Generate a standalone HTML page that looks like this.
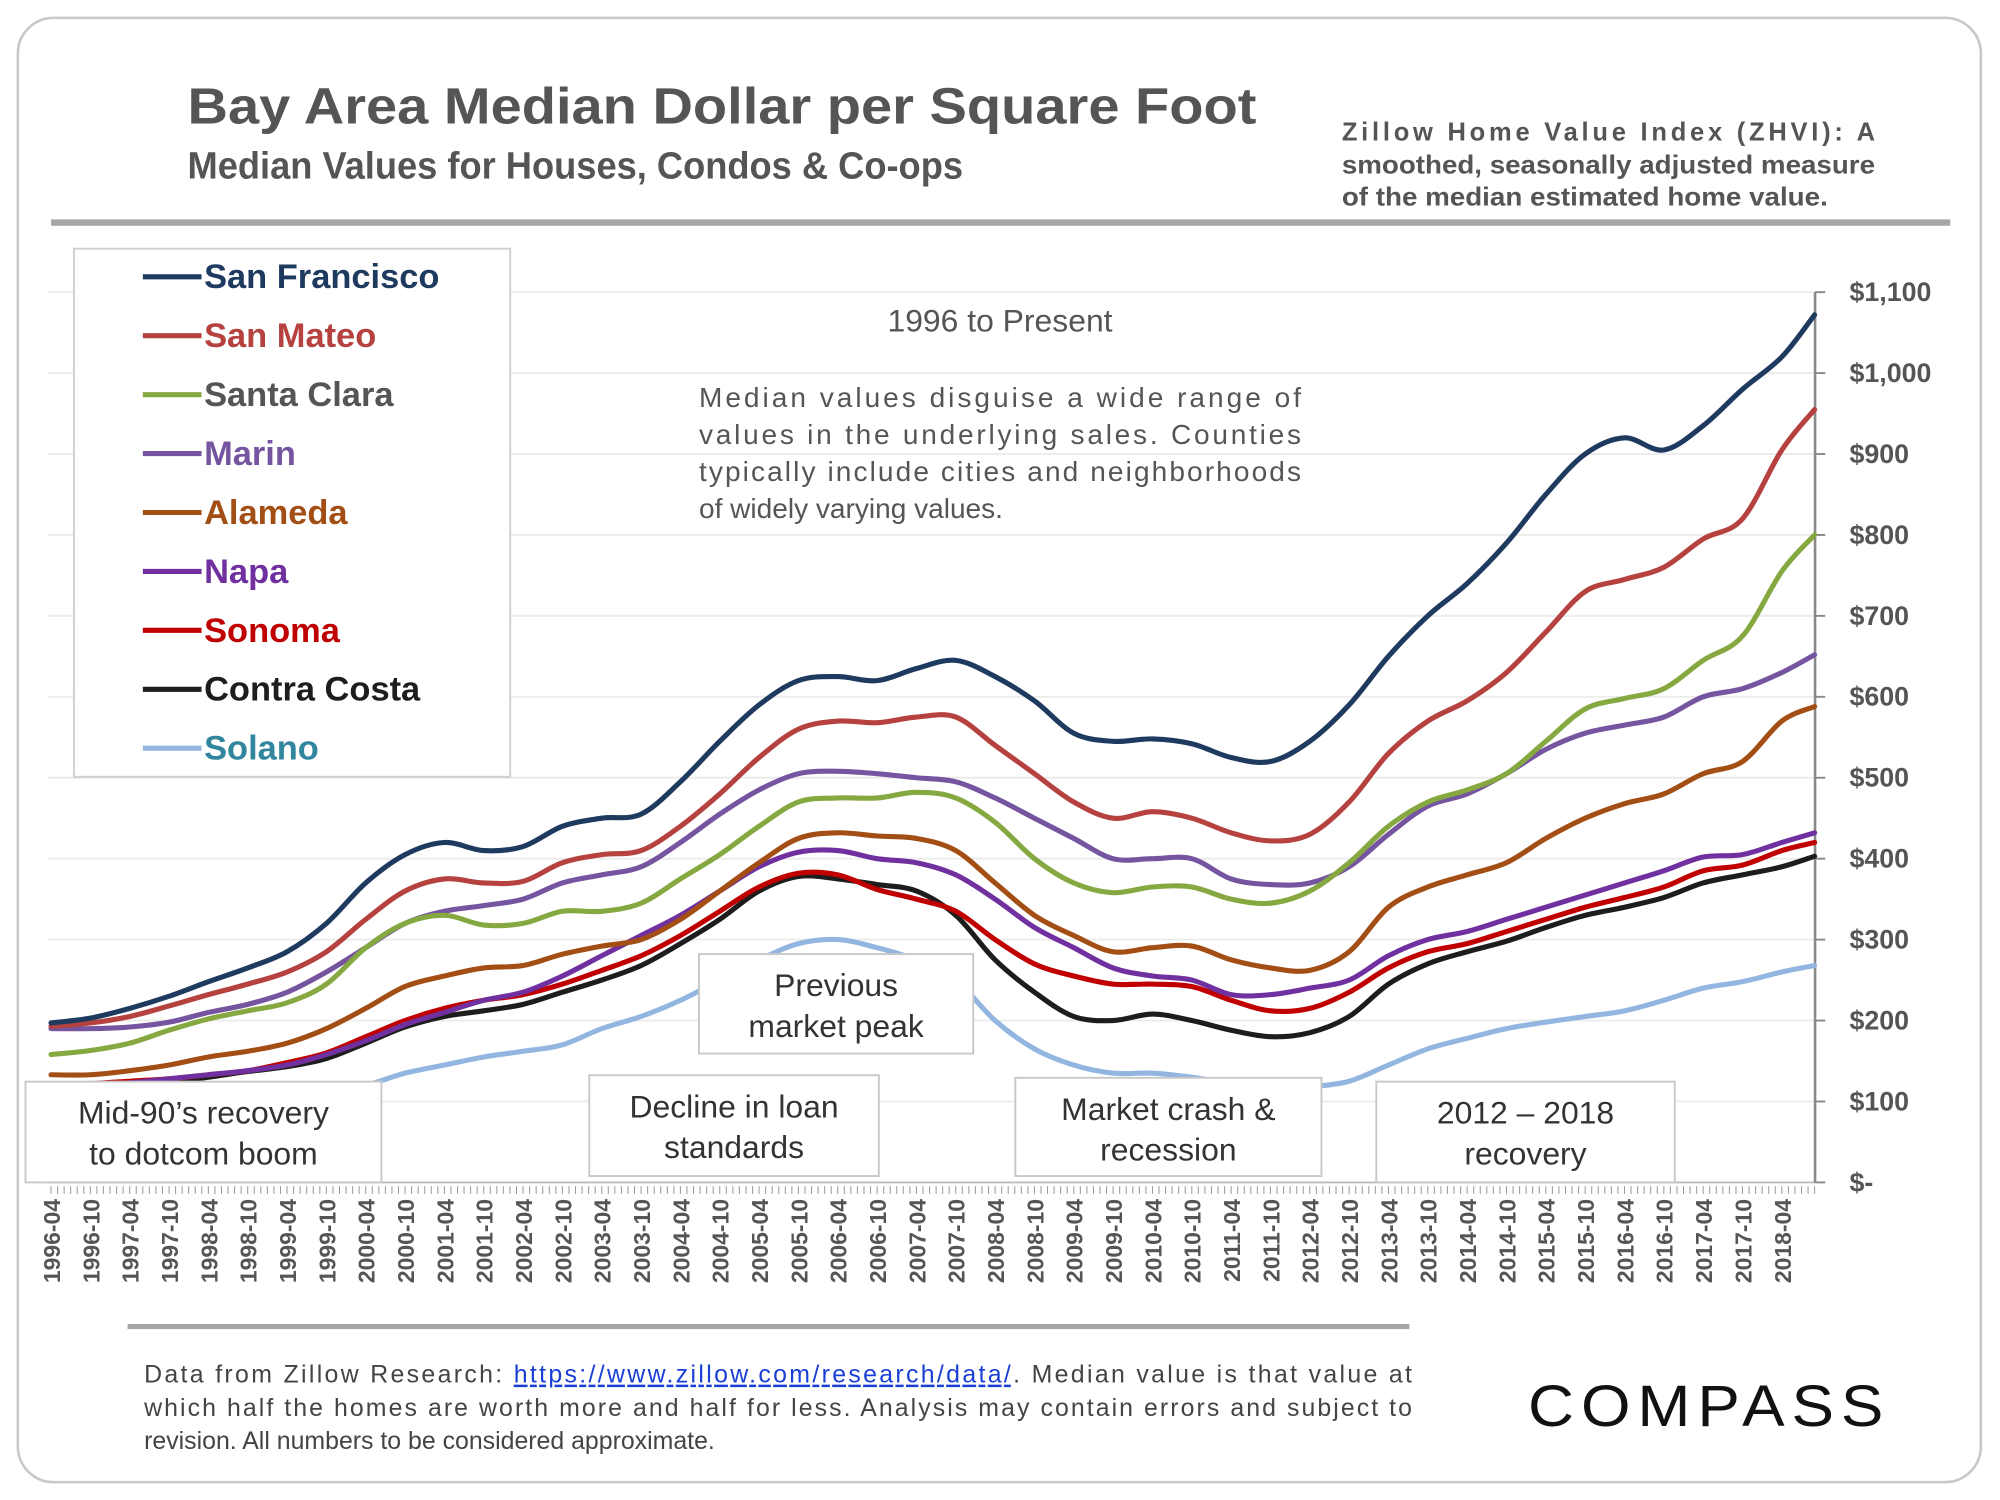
<!DOCTYPE html>
<html><head><meta charset="utf-8">
<style>
html,body{margin:0;padding:0;background:#fff;}
svg{display:block;font-family:"Liberation Sans",sans-serif;}
</style></head>
<body>
<svg id="chart" width="2000" height="1500" viewBox="0 0 1568 1176" preserveAspectRatio="none">
<rect x="14" y="14" width="1539" height="1148" rx="28" fill="#fff" stroke="#c8c8c8" stroke-width="2"/>
<text x="147" y="97" font-size="40" font-weight="bold" fill="#555" textLength="838" lengthAdjust="spacingAndGlyphs">Bay Area Median Dollar per Square Foot</text>
<text x="147" y="140" font-size="30" font-weight="bold" fill="#555" textLength="608" lengthAdjust="spacingAndGlyphs">Median Values for Houses, Condos &amp; Co-ops</text>
<g font-size="20" font-weight="bold" fill="#555">
<text x="1052" y="110" textLength="418" lengthAdjust="spacing">Zillow Home Value Index (ZHVI): A</text>
<text x="1052" y="136" textLength="418" lengthAdjust="spacingAndGlyphs">smoothed, seasonally adjusted measure</text>
<text x="1052" y="161" textLength="381" lengthAdjust="spacingAndGlyphs">of the median estimated home value.</text>
</g>
<rect x="40" y="172" width="1489" height="5" fill="#a6a6a6"/>
<g id="grid"></g>
<g id="xticks"></g>
<g id="yaxis"></g>
<g id="series"></g>
<text x="784" y="260" font-size="25" fill="#555" text-anchor="middle">1996 to Present</text>
<g font-size="22" fill="#555">
<text x="548" y="319" textLength="472" lengthAdjust="spacing">Median values disguise a wide range of</text>
<text x="548" y="348" textLength="472" lengthAdjust="spacing">values in the underlying sales. Counties</text>
<text x="548" y="377" textLength="472" lengthAdjust="spacing">typically include cities and neighborhoods</text>
<text x="548" y="406">of widely varying values.</text>
</g>
<g id="annots"></g>
<g id="legend"></g>
<rect x="100" y="1038" width="1005" height="4" fill="#a6a6a6"/>
<g font-size="19.5" fill="#444">
<text x="113" y="1084" textLength="994" lengthAdjust="spacing">Data from Zillow Research: <tspan fill="#1a3fd6" text-decoration="underline">https://www.zillow.com/research/data/</tspan>. Median value is that value at</text>
<text x="113" y="1110" textLength="994" lengthAdjust="spacing">which half the homes are worth more and half for less. Analysis may contain errors and subject to</text>
<text x="113" y="1136">revision. All numbers to be considered approximate.</text>
</g>
<text x="1340" y="1118" font-size="46" fill="#111" text-anchor="middle" letter-spacing="5" textLength="284" lengthAdjust="spacingAndGlyphs">COMPASS</text>
</svg>
<script>
// semiannual samples from 1996-04 to 2018-04, plus final point 2018-09
const seriesNames=["San Francisco","San Mateo","Santa Clara","Marin","Alameda","Napa","Sonoma","Contra Costa","Solano"];
const sanFrancisco=[197,203,215,230,248,265,285,320,370,405,420,410,415,440,450,455,495,545,590,620,625,620,635,645,625,595,555,545,548,542,525,520,545,590,650,700,740,790,850,900,920,905,935,980,1020,1072];
const sanMateo=[193,197,205,218,232,245,260,285,325,360,375,370,372,395,405,410,440,480,525,560,570,568,575,575,540,505,470,450,458,450,432,422,430,470,530,570,595,630,680,730,745,760,795,820,905,955];
const santaClara=[158,163,172,188,202,212,222,245,290,320,330,318,320,335,335,345,375,405,440,470,475,475,482,475,445,400,370,358,365,365,350,345,360,395,440,470,485,505,545,585,598,610,645,675,755,800];
const marin=[190,190,192,198,210,220,235,260,290,320,335,342,350,370,380,390,420,455,485,505,508,505,500,495,475,450,425,400,400,400,375,368,370,390,430,465,480,505,535,555,565,575,600,610,630,652];
const alameda=[133,133,138,145,155,162,172,190,215,242,255,265,268,282,292,300,325,360,395,425,432,428,425,410,370,330,305,285,290,292,275,265,262,285,340,365,380,395,425,450,468,480,505,520,570,588];
const napa=[118,120,123,128,133,138,145,158,175,195,210,225,235,255,280,305,330,360,390,408,410,400,395,380,350,315,290,265,255,250,232,232,240,250,280,300,310,325,340,355,370,385,402,405,420,432];
const sonoma=[120,122,125,128,133,138,148,160,180,200,215,225,232,245,262,280,305,335,365,382,380,362,350,335,300,270,255,245,245,242,225,212,215,235,265,285,295,310,325,340,352,365,385,392,410,420];
const contraCosta=[115,117,120,124,130,137,143,153,172,192,205,212,220,235,250,268,295,325,360,378,375,368,360,330,275,235,205,200,208,200,188,180,185,205,245,270,285,298,315,330,340,352,370,380,390,403];
const solano=[95,95,97,100,102,105,108,112,120,135,145,155,162,170,190,205,225,250,275,295,300,290,275,250,200,165,145,135,135,130,122,115,118,125,145,165,178,190,198,205,212,225,240,248,260,268];
const yTicks=[0,100,200,300,400,500,600,700,800,900,1000,1100];
const yTickLabels=["$-","$100","$200","$300","$400","$500","$600","$700","$800","$900","$1,000","$1,100"];
const xTickLabels=[];
for(let y=1996;y<=2018;y++){xTickLabels.push(y+"-04");if(y<2018)xTickLabels.push(y+"-10");}

const NS="http://www.w3.org/2000/svg";
const colors=["#1f3a5f","#b5423f","#86a840","#7655a0","#a24e14","#7030a0","#c00000","#1d1d1d","#93b6e0"];
const legendText=["#1f3a5f","#b5423f","#555","#7655a0","#a24e14","#7030a0","#c00000","#1d1d1d","#31859c"];
const allSeries=[sanFrancisco,sanMateo,santaClara,marin,alameda,napa,sonoma,contraCosta,solano];
const X0=40,PX_M=5.14,Y0=927,PX_V=0.6345,XR=1423;
function xScale(m){return X0+PX_M*m;}
function yScale(v){return Y0-PX_V*v;}
function monthOf(i,n){return i===n-1?269:i*6;}
function mk(tag,attrs,parent){const e=document.createElementNS(NS,tag);for(const k in attrs)e.setAttribute(k,attrs[k]);parent.appendChild(e);return e;}

const grid=document.getElementById('grid');
const yaxis=document.getElementById('yaxis');
yTicks.forEach((v,i)=>{
  const y=yScale(v);
  if(v>0){const g=mk('line',{x1:37,x2:XR,y1:y,y2:y,stroke:'#ececec','stroke-width':1.5},grid);
  
  }
  const t=mk('line',{x1:XR,x2:XR+8,y1:y,y2:y,stroke:'#888','stroke-width':1.5},yaxis);
  
  
  const tx=mk('text',{x:1450,y:y+7,'font-size':21,'font-weight':'bold',fill:'#555'},yaxis);
  tx.textContent=yTickLabels[i];
  
  
});
const ax=mk('line',{x1:XR,x2:XR,y1:yScale(1100),y2:Y0,stroke:'#888','stroke-width':2},yaxis);



const xt=document.getElementById('xticks');
const bl=mk('line',{x1:37,x2:XR,y1:Y0,y2:Y0,stroke:'#bbb','stroke-width':1.5},xt);


for(let m=0;m<=269;m++){
  const x=xScale(m);
  const l=mk('line',{x1:x,x2:x,y1:Y0+3,y2:Y0+9,stroke:'#999','stroke-width':0.8},xt);
  
  
}
xTickLabels.forEach((s,i)=>{
  const x=xScale(i*6)+7;
  const t=mk('text',{x:x,y:940,'font-size':18,'font-weight':'bold',fill:'#555','text-anchor':'end',transform:`rotate(-90 ${x} 940)`},xt);
  t.textContent=s;
  
  
});

const sg=document.getElementById('series');
for(let s=allSeries.length-1;s>=0;s--){
  const d=allSeries[s],n=d.length;
  const pts=d.map((v,i)=>[xScale(monthOf(i,n)),yScale(v)]);
  let p=`M${pts[0][0]},${pts[0][1]}`;
  for(let i=0;i<n-1;i++){
    const p0=pts[Math.max(0,i-1)],p1=pts[i],p2=pts[i+1],p3=pts[Math.min(n-1,i+2)];
    const c1=[p1[0]+(p2[0]-p0[0])/6,p1[1]+(p2[1]-p0[1])/6];
    const c2=[p2[0]-(p3[0]-p1[0])/6,p2[1]-(p3[1]-p1[1])/6];
    p+=` C${c1[0]},${c1[1]} ${c2[0]},${c2[1]} ${p2[0]},${p2[1]}`;
  }
  const path=mk('path',{d:p,fill:'none',stroke:colors[s],'stroke-width':4,'stroke-linejoin':'round','stroke-linecap':'round'},sg);
  
  
}

const an=document.getElementById('annots');
const boxes=[[20,848,279,79,"Mid-90’s recovery","to dotcom boom"],[462,843,227,79,"Decline in loan","standards"],[548,748,215,78,"Previous","market peak"],[796,845,240,77,"Market crash &","recession"],[1079,848,234,79,"2012 – 2018","recovery"]];
boxes.forEach(b=>{
  const g=mk('g',{},an);
  
  
  mk('rect',{x:b[0],y:b[1],width:b[2],height:b[3],fill:'#fff',stroke:'#c8c8c8','stroke-width':1.5},g);
  const cx=b[0]+b[2]/2;
  const t1=mk('text',{x:cx,y:b[1]+33,'font-size':25,fill:'#333','text-anchor':'middle'},g);t1.textContent=b[4];
  const t2=mk('text',{x:cx,y:b[1]+65,'font-size':25,fill:'#333','text-anchor':'middle'},g);t2.textContent=b[5];
});

const lg=document.getElementById('legend');
const lr=mk('rect',{x:58,y:195,width:342,height:414,fill:'#fff',stroke:'#d0d0d0','stroke-width':1.5},lg);


seriesNames.forEach((nm,i)=>{
  const y=217+i*46.2;
  const g=mk('g',{},lg);
  
  
  mk('line',{x1:112,x2:158,y1:y,y2:y,stroke:colors[i],'stroke-width':4},g);
  const t=mk('text',{x:160,y:y+9,'font-size':27,'font-weight':'bold',fill:legendText[i]},g);
  t.textContent=nm;
});
</script>
</body></html>
